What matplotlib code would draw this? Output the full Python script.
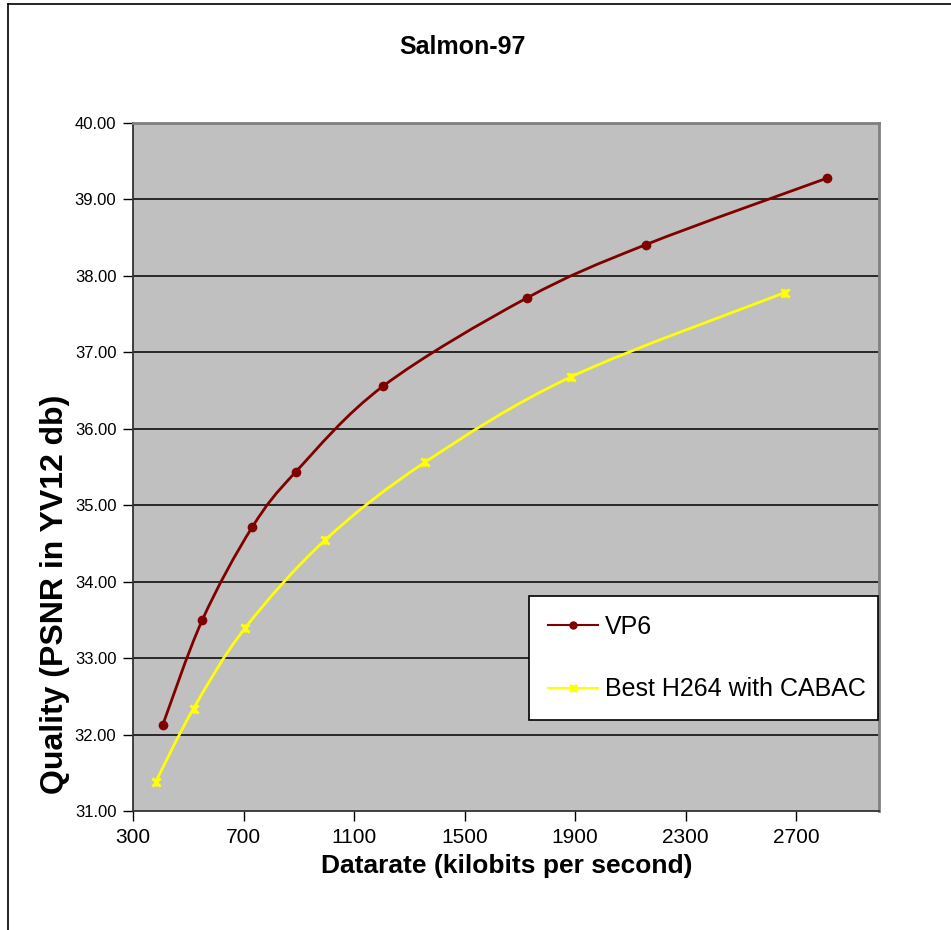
#!/usr/bin/env python3
"""
Salmon-97 rate/quality curves: VP6 vs best H264 (CABAC), Excel-style chart.
"""

import numpy as np
import matplotlib

matplotlib.use("Agg")
from matplotlib.pyplot import figure
from matplotlib.path import Path
from matplotlib.patches import PathPatch
from matplotlib.lines import Line2D

# datarate (kbit/s) and PSNR (dB)
vp6_rate = [407, 551, 731, 890, 1206, 1725, 2157, 2813]
vp6_psnr = [32.12, 33.50, 34.71, 35.44, 36.56, 37.71, 38.41, 39.28]

h264_rate = [382, 519, 705, 994, 1356, 1886, 2658]
h264_psnr = [31.38, 32.34, 33.39, 34.54, 35.56, 36.68, 37.78]

x_ticks = [300, 700, 1100, 1500, 1900, 2300, 2700]
y_ticks = [31, 32, 33, 34, 35, 36, 37, 38, 39, 40]

title = "Salmon-97"
x_label = "Datarate (kilobits per second)"
y_label = "Quality (PSNR in YV12 db)"
names = ["VP6", "Best H264 with CABAC"]

matplotlib.rcParams["font.family"] = ["Liberation Sans", "DejaVu Sans"]

# excel "star" marker: an x with a vertical bar through it
star = Path(
    [(-1, -1), (1, 1), (-1, 1), (1, -1), (0, -1), (0, 1)],
    [Path.MOVETO, Path.LINETO, Path.MOVETO, Path.LINETO, Path.MOVETO, Path.LINETO],
)


def smooth_path(x, y):
    """Bezier path through the points, like Excel's smoothed line."""
    p = np.column_stack([x, y]).astype(float)
    n = len(p)
    verts = [p[0]]
    codes = [Path.MOVETO]
    for i in range(n - 1):
        p0 = p[max(i - 1, 0)]
        p1 = p[i]
        p2 = p[i + 1]
        p3 = p[min(i + 2, n - 1)]
        c1 = p1 + (p2 - p0) / 6
        c2 = p2 - (p3 - p1) / 6
        verts += [c1, c2, p2]
        codes += [Path.CURVE4] * 3
    return Path(verts, codes)


fig = figure(figsize=(9.51, 9.30), dpi=100)
fig.patch.set_facecolor("white")

ax = fig.add_axes([133 / 951, 1 - 811 / 930, 746 / 951, 688 / 930])
ax.set_facecolor("#C0C0C0")

for yy in y_ticks[1:-1]:
    ax.axhline(yy, color="black", lw=1.1, zorder=1)

series = [
    (vp6_rate, vp6_psnr, "#800000", "o", 7, 0),
    (h264_rate, h264_psnr, "#FFFF00", star, 6, 2),
]
handles = []
for (xs, ys, col, mk, ms, mew), name in zip(series, names):
    ax.add_patch(PathPatch(smooth_path(xs, ys), fill=False, edgecolor=col, lw=2, zorder=3))
    ax.plot(xs, ys, ls="none", marker=mk, ms=ms, color=col, mec=col, mew=mew, zorder=4)
    handles.append(Line2D([], [], color=col, lw=1.5, marker=mk, ms=ms - 1, mec=col, mew=mew))

ax.set_xlim(300, 3000)
ax.set_ylim(31, 40)
ax.set_xticks(x_ticks)
ax.set_yticks(y_ticks)
ax.set_yticklabels([f"{v:.2f}" for v in y_ticks])
ax.tick_params(axis="x", direction="out", length=7, width=1, labelsize=15, pad=5, colors="black")
ax.tick_params(axis="y", direction="out", length=7, width=1, labelsize=12, pad=5, colors="black")

for side in ("left", "bottom"):
    ax.spines[side].set_color("#333333")
    ax.spines[side].set_linewidth(1.3)
for side in ("right", "top"):
    ax.spines[side].set_color("#808080")
    ax.spines[side].set_linewidth(2)

leg = ax.legend(
    handles,
    names,
    loc="center left",
    bbox_to_anchor=(0.531, 0.119, 0.468, 0.2066),
    mode="expand",
    fontsize=18,
    frameon=True,
    fancybox=False,
    framealpha=1,
    edgecolor="black",
    borderaxespad=0,
    handlelength=2.0,
    handletextpad=0.3,
    labelspacing=1.55,
    borderpad=0.75,
)
leg.get_frame().set_linewidth(1.2)

fig.text(463 / 951, 1 - 47 / 930, title, ha="center", va="center", fontsize=18, fontweight="bold")
fig.text(507 / 951, 1 - 866 / 930, x_label, ha="center", va="center", fontsize=19, fontweight="bold")
fig.text(55 / 951, 1 - 594 / 930, y_label, ha="center", va="center", rotation=90, fontsize=23,
         fontweight="bold")

# outer chart-area border (left and top edges visible in the reference)
fig.add_artist(Line2D([8 / 951, 8 / 951], [0, 1 - 4 / 930], color="black", lw=1.2))
fig.add_artist(Line2D([8 / 951, 1], [1 - 4 / 930, 1 - 4 / 930], color="black", lw=1.2))

fig.savefig("out.png", dpi=100)
